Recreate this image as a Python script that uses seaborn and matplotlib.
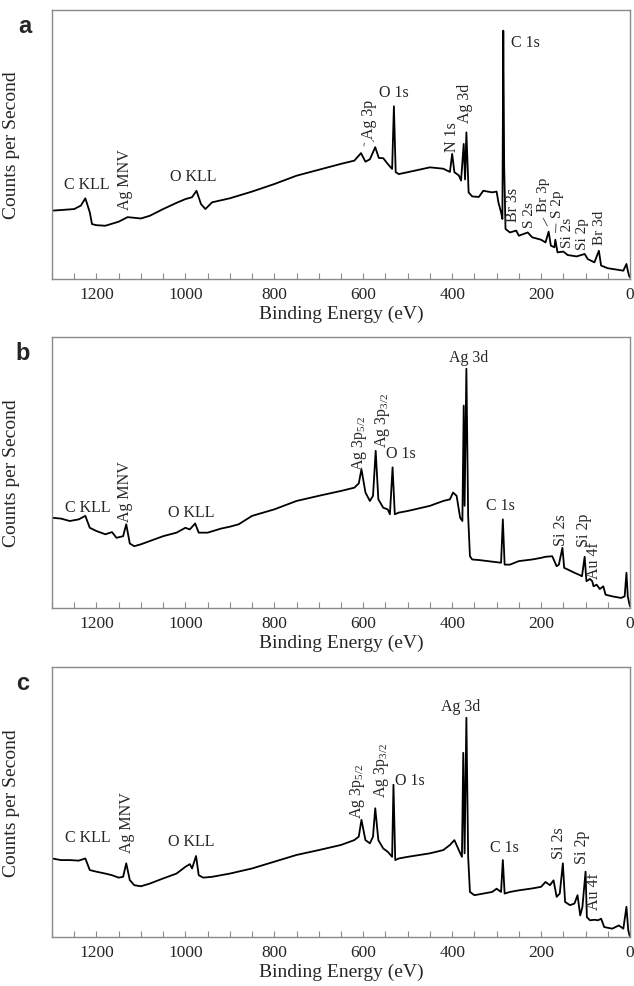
import matplotlib
matplotlib.use("Agg")
import matplotlib.pyplot as plt
import seaborn as sns
import pandas as pd
from matplotlib.ticker import MultipleLocator

# ---------------- data (binding energy in eV, counts in arbitrary units) ----------------
be_a = [1300, 1250, 1235, 1225, 1215, 1210, 1200, 1180, 1150, 1130, 1100, 1080, 1050, 1020,
        1000, 985, 975, 965, 955, 940, 900, 850, 800, 750, 700, 650, 620, 605, 595, 585, 573,
        565, 555, 545, 535, 531, 527, 520, 500, 450, 420, 405, 400, 395, 385, 380, 374, 371,
        368, 363, 355, 340, 330, 310, 300, 296, 290, 287, 285, 283, 280, 270, 256, 250, 230,
        220, 200, 190, 183, 178, 170, 168, 163, 150, 140, 120, 102, 95, 80, 70, 65, 50, 30,
        15, 8, 5, 2, 0]
cps_a = [25.4, 26.0, 27.3, 30.0, 24.8, 20.4, 20.0, 19.8, 21.3, 23.0, 22.5, 23.5, 26.0, 28.3,
         29.7, 30.4, 32.8, 27.9, 26.0, 28.5, 30.0, 32.5, 35.3, 38.4, 40.6, 42.8, 44.0, 46.8,
         43.6, 44.5, 49.0, 45.0, 44.9, 42.8, 40.9, 64.2, 39.7, 39.0, 39.7, 41.5, 41.0, 39.8,
         46.5, 39.7, 38.5, 36.6, 50.2, 37.0, 54.5, 32.2, 30.7, 30.5, 32.8, 32.2, 32.5, 28.5,
         24.8, 22.3, 92.3, 42.0, 18.6, 17.3, 18.0, 16.1, 17.3, 15.5, 14.6, 13.6, 17.6, 12.4,
         11.8, 14.6, 9.9, 10.2, 8.9, 8.4, 9.3, 7.4, 6.2, 10.5, 5.0, 4.0, 3.5, 3.1, 5.6, 3.1,
         1.2, 0.6]

be_b = [1300, 1280, 1260, 1240, 1225, 1215, 1200, 1180, 1165, 1155, 1140, 1133, 1125, 1115,
        1100, 1080, 1050, 1020, 1000, 990, 978, 970, 950, 920, 900, 880, 850, 800, 750, 700,
        650, 620, 610, 604, 595, 585, 578, 572, 566, 555, 545, 540, 534, 529, 520, 500, 450,
        420, 405, 398, 390, 382, 377, 374, 372, 368, 364, 360, 355, 340, 300, 290, 286, 282,
        270, 250, 220, 200, 190, 175, 170, 165, 160, 152, 148, 140, 125, 115, 108, 102, 98,
        90, 85, 82, 75, 68, 60, 55, 40, 20, 12, 8, 5, 2, 0]
cps_b = [33.3, 33.0, 32.1, 32.7, 34.0, 29.6, 28.4, 27.2, 28.0, 25.9, 26.5, 30.9, 23.8, 22.8,
         23.5, 24.7, 26.5, 27.8, 29.6, 29.0, 31.2, 27.8, 27.8, 29.3, 30.0, 30.9, 34.0, 36.4,
         39.5, 41.4, 43.2, 44.4, 46.0, 51.2, 42.6, 39.5, 41.4, 58.0, 40.1, 37.0, 36.4, 34.6,
         51.9, 34.6, 35.2, 35.8, 37.7, 39.5, 40.1, 42.6, 41.4, 33.3, 32.1, 74.7, 37.7, 88.3,
         33.9, 19.1, 17.9, 17.7, 16.9, 16.7, 32.7, 16.0, 16.0, 17.3, 17.9, 18.5, 18.9, 19.1,
         17.3, 15.4, 16.0, 22.2, 14.8, 14.2, 13.0, 12.3, 11.7, 18.9, 9.9, 10.7, 9.9, 8.0, 8.6,
         7.0, 8.0, 4.9, 4.3, 3.7, 4.3, 13.0, 4.3, 1.9, 0.6]

be_c = [1300, 1280, 1260, 1240, 1225, 1215, 1200, 1180, 1165, 1150, 1140, 1133, 1125, 1115,
        1100, 1080, 1050, 1020, 1000, 990, 985, 976, 970, 960, 940, 900, 850, 800, 750, 700,
        650, 620, 610, 604, 595, 585, 578, 573, 566, 555, 545, 535, 532, 528, 520, 500, 450,
        420, 405, 395, 385, 378, 375, 372, 368, 364, 360, 350, 330, 310, 300, 290, 286, 282,
        270, 250, 220, 200, 190, 180, 172, 165, 158, 151, 146, 135, 125, 118, 112, 107, 100,
        97, 90, 80, 72, 65, 58, 40, 25, 15, 8, 4, 1, 0]
cps_c = [29.1, 28.5, 28.5, 28.3, 29.1, 24.8, 24.2, 23.5, 22.9, 22.0, 22.3, 27.3, 21.1, 19.2,
         18.8, 19.8, 21.7, 23.5, 26.0, 27.0, 25.4, 30.0, 22.9, 22.0, 22.3, 23.5, 25.4, 27.9,
         30.4, 32.2, 34.1, 35.9, 37.2, 43.4, 35.9, 34.7, 37.2, 47.7, 35.9, 32.8, 31.6, 29.7,
         56.4, 28.5, 29.1, 29.7, 31.0, 32.2, 34.1, 35.9, 32.2, 29.7, 68.2, 31.0, 81.2, 29.7,
         16.7, 15.5, 16.1, 16.7, 17.9, 16.7, 28.5, 16.1, 16.7, 17.3, 18.0, 18.6, 20.4, 19.2,
         21.0, 14.9, 16.1, 27.3, 13.0, 11.8, 12.4, 15.5, 8.0, 11.2, 24.2, 7.4, 6.2, 6.4, 6.2,
         6.8, 3.7, 3.1, 4.3, 3.1, 11.2, 2.5, 0.6, 0.3]

# peak labels: (text, eV, height, rotation, ha, fontsize)
labels_a = [("C KLL", 1221, 35.3, 0, "center", 11.5), ("Ag MNV", 1135, 37.2, 90, "center", 11.5),
            ("O KLL", 983, 38.2, 0, "center", 11.5), ("Ag 3p", 588, 59.5, 90, "center", 11.5),
            ("O 1s", 531, 69.6, 0, "center", 11.5),
            ("N 1s", 401, 53.3, 90, "center", 11.5), ("Ag 3d", 372, 65.7, 90, "center", 11.5),
            ("C 1s", 268, 88.2, 0, "left", 11.5), ("Br 3s", 263, 27.9, 90, "center", 11.5),
            ("S 2s", 227, 24.2, 90, "center", 11),
            ("Br 3p", 195, 31.8, 90, "center", 11),
            ("S 2p", 164, 28.2, 90, "center", 11), ("Si 2s", 140, 17.5, 90, "center", 11),
            ("Si 2p", 106, 17.0, 90, "center", 11), ("Br 3d", 69, 19.3, 90, "center", 11)]
labels_b = [("C KLL", 1220, 37.4, 0, "center", 11.5), ("Ag MNV", 1135, 43.2, 90, "center", 11.5),
            ("O KLL", 987, 35.6, 0, "center", 11.5),
            ("Ag 3p$_{5/2}$", 609, 61.0, 90, "center", 11.5),
            ("Ag 3p$_{3/2}$", 557, 69.8, 90, "center", 11.5),
            ("O 1s", 516, 57.2, 0, "center", 11.5),
            ("Ag 3d", 364, 92.6, 0, "center", 11.5), ("C 1s", 292, 38.0, 0, "center", 11.5),
            ("Si 2s", 156, 29.0, 90, "center", 11.5), ("Si 2p", 104, 29.0, 90, "center", 11.5),
            ("Au 4f", 81, 17.9, 90, "center", 11.5)]
labels_c = [("C KLL", 1220, 37.2, 0, "center", 11.5), ("Ag MNV", 1132, 42.8, 90, "center", 11.5),
            ("O KLL", 987, 35.6, 0, "center", 11.5),
            ("Ag 3p$_{5/2}$", 613, 54.5, 90, "center", 11.5),
            ("Ag 3p$_{3/2}$", 559, 62.0, 90, "center", 11.5),
            ("O 1s", 494, 58.2, 0, "center", 11.5),
            ("Ag 3d", 382, 85.5, 0, "center", 11.5), ("C 1s", 283, 33.2, 0, "center", 11.5),
            ("Si 2s", 159, 35.0, 90, "center", 11.5), ("Si 2p", 109, 33.5, 90, "center", 11.5),
            ("Au 4f", 81, 17.3, 90, "center", 11.5)]
# leader lines in panel a: (label end eV, label end h, peak eV, peak h)
leaders_a = [(596, 51.5, 600, 48.5), (581, 52.5, 577, 51.0),
             (198, 23.5, 183, 18.8), (166, 21.5, 168, 16.2)]

panel_names = ["a", "b", "c"]

# ---------------- style ----------------
sns.set_theme(style="white")
plt.rcParams["font.family"] = ["Liberation Serif", "DejaVu Serif"]
plt.rcParams["mathtext.fontset"] = "custom"
plt.rcParams["mathtext.rm"] = "Liberation Serif"
plt.rcParams["mathtext.it"] = "Liberation Serif"
plt.rcParams["mathtext.default"] = "regular"

fig = plt.figure(figsize=(6.34, 9.87), dpi=100)
rects = [[0.082, 0.7163, 0.9117, 0.2726],
         [0.082, 0.3830, 0.9117, 0.2745],
         [0.082, 0.0496, 0.9117, 0.2736]]

spectra = [(be_a, cps_a, labels_a), (be_b, cps_b, labels_b), (be_c, cps_c, labels_c)]
for i, (be, cps, labs) in enumerate(spectra):
    ax = fig.add_axes(rects[i])
    df = pd.DataFrame({"Binding Energy (eV)": be, "Counts per Second": cps})
    sns.lineplot(data=df, x="Binding Energy (eV)", y="Counts per Second", ax=ax,
                 color="black", lw=1.3, sort=False, estimator=None)
    ax.set_xlim(1300, 0)
    ax.set_ylim(0, 100)
    ax.set_yticks([])
    ax.xaxis.set_major_locator(MultipleLocator(200))
    ax.xaxis.set_minor_locator(MultipleLocator(50))
    ax.tick_params(axis="x", which="both", direction="in", length=4, width=0.8,
                   color="#8a8a8a", labelsize=12.5, pad=5, bottom=True)
    for s in ax.spines.values():
        s.set_color("#8a8a8a")
        s.set_linewidth(1.0)
    ax.set_xlabel("Binding Energy (eV)", fontsize=14, labelpad=2)
    ax.set_ylabel("Counts per Second", fontsize=14)
    ax.yaxis.set_label_coords(-0.055, 0.5)
    for (t, x, y, rot, ha, fs) in labs:
        ax.text(x, y, t, rotation=rot, ha=ha, va="center", fontsize=fs)
    if i == 0:
        for (tx, ty, px, py) in leaders_a:
            ax.annotate("", xy=(px, py), xytext=(tx, ty),
                        arrowprops=dict(arrowstyle="-", color="#555555", lw=0.7))
    fig.text(0.025 + (0.004 if i == 0 else 0), rects[i][1] + rects[i][3] - 0.004,
             panel_names[i], fontsize=17, fontweight="bold",
             family=["Liberation Sans", "DejaVu Sans"], ha="left", va="top")

fig.savefig("out.png", dpi=100)
